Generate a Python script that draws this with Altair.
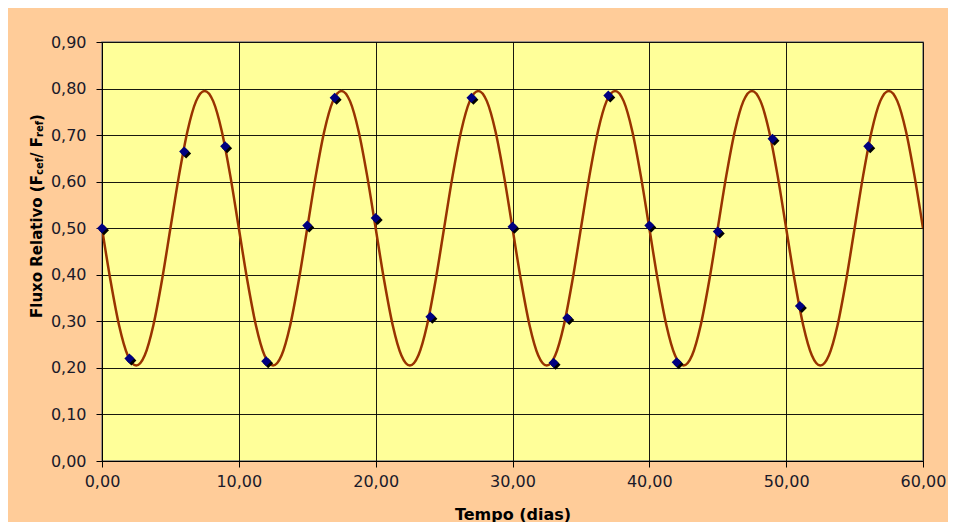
import altair as alt
import pandas as pd

# Observed data points (days, relative flux)
obs_t = [0, 2, 6, 9, 12, 15, 17, 20, 24, 27, 30, 33, 34, 37, 40, 42, 45, 49, 51, 56]
obs_y = [0.500, 0.220, 0.665, 0.676, 0.214, 0.506, 0.780, 0.522, 0.310, 0.780,
         0.503, 0.211, 0.307, 0.785, 0.506, 0.212, 0.493, 0.692, 0.333, 0.676]

# Fitted curve, every 0.625 days
curve_t = [
    0.000, 0.625, 1.250, 1.875, 2.500, 3.125, 3.750, 4.375, 5.000, 5.625, 6.250, 6.875, 7.500, 8.125, 8.750, 9.375,
    10.000, 10.625, 11.250, 11.875, 12.500, 13.125, 13.750, 14.375, 15.000, 15.625, 16.250, 16.875, 17.500, 18.125, 18.750, 19.375,
    20.000, 20.625, 21.250, 21.875, 22.500, 23.125, 23.750, 24.375, 25.000, 25.625, 26.250, 26.875, 27.500, 28.125, 28.750, 29.375,
    30.000, 30.625, 31.250, 31.875, 32.500, 33.125, 33.750, 34.375, 35.000, 35.625, 36.250, 36.875, 37.500, 38.125, 38.750, 39.375,
    40.000, 40.625, 41.250, 41.875, 42.500, 43.125, 43.750, 44.375, 45.000, 45.625, 46.250, 46.875, 47.500, 48.125, 48.750, 49.375,
    50.000, 50.625, 51.250, 51.875, 52.500, 53.125, 53.750, 54.375, 55.000, 55.625, 56.250, 56.875, 57.500, 58.125, 58.750, 59.375,
    60.000,
]
curve_y = [
    0.500, 0.387, 0.291, 0.227, 0.205, 0.227, 0.291, 0.387, 0.500, 0.613, 0.709, 0.773, 0.795, 0.773, 0.709, 0.613,
    0.500, 0.387, 0.291, 0.227, 0.205, 0.227, 0.291, 0.387, 0.500, 0.613, 0.709, 0.773, 0.795, 0.773, 0.709, 0.613,
    0.500, 0.387, 0.291, 0.227, 0.205, 0.227, 0.291, 0.387, 0.500, 0.613, 0.709, 0.773, 0.795, 0.773, 0.709, 0.613,
    0.500, 0.387, 0.291, 0.227, 0.205, 0.227, 0.291, 0.387, 0.500, 0.613, 0.709, 0.773, 0.795, 0.773, 0.709, 0.613,
    0.500, 0.387, 0.291, 0.227, 0.205, 0.227, 0.291, 0.387, 0.500, 0.613, 0.709, 0.773, 0.795, 0.773, 0.709, 0.613,
    0.500, 0.387, 0.291, 0.227, 0.205, 0.227, 0.291, 0.387, 0.500, 0.613, 0.709, 0.773, 0.795, 0.773, 0.709, 0.613,
    0.500,
]

x_ticks = [0, 10, 20, 30, 40, 50, 60]
y_ticks = [0.0, 0.1, 0.2, 0.3, 0.4, 0.5, 0.6, 0.7, 0.8, 0.9]

FONT = "DejaVu Sans"
LABEL_COLOR = "#1a1a2a"

obs = pd.DataFrame({"t": obs_t, "f": obs_y})
curve = pd.DataFrame({"t": curve_t, "f": curve_y})

x_scale = alt.Scale(domain=[0, 60], nice=False, zero=False)
y_scale = alt.Scale(domain=[0, 0.9], nice=False)

x_axis = alt.Axis(
    values=x_ticks,
    labelExpr="replace(format(datum.value, '.2f'), '.', ',')",
    title="Tempo (dias)",
    titleFont=FONT, titleFontSize=16, titleFontWeight="bold", titleColor="#000000",
    titlePadding=17,
    labelFont=FONT, labelFontSize=16, labelColor=LABEL_COLOR, labelPadding=6,
    tickSize=6, tickColor="#000000", domainColor="#000000",
    grid=True, gridColor="#000000", gridOpacity=0.9, gridWidth=1,
    labelFlush=False,
)
y_axis = alt.Axis(
    values=y_ticks,
    labelExpr="replace(format(datum.value, '.2f'), '.', ',')",
    title=None,
    labelFont=FONT, labelFontSize=16, labelColor=LABEL_COLOR, labelPadding=10,
    tickSize=6, tickColor="#000000", domainColor="#000000",
    grid=True, gridColor="#000000", gridOpacity=0.9, gridWidth=1,
    labelFlush=False,
)

line = alt.Chart(curve).mark_line(
    color="#993300", strokeWidth=2.5, interpolate="monotone", clip=True
).encode(
    x=alt.X("t:Q", scale=x_scale, axis=x_axis),
    y=alt.Y("f:Q", scale=y_scale, axis=y_axis),
)

shadow = alt.Chart(obs).mark_point(
    shape="diamond", filled=True, color="#000000", size=100, opacity=1, xOffset=2, yOffset=2
).encode(x=alt.X("t:Q", scale=x_scale), y=alt.Y("f:Q", scale=y_scale))

points = alt.Chart(obs).mark_point(
    shape="diamond", filled=True, color="#000080", size=100, opacity=1
).encode(x=alt.X("t:Q", scale=x_scale), y=alt.Y("f:Q", scale=y_scale))

# y-axis title with subscripts, composed of pieces reading bottom to top
title_parts = [
    ("Fluxo Relativo (F", 15, 0, 276),
    ("cef", 10, 3, 133),
    ("/ F", 15, 0, 116),
    ("ref", 10, 3, 95),
    (")", 15, 0, 79),
]
title_layers = []
for txt, fs, dx, ypos in title_parts:
    title_layers.append(
        alt.Chart(alt.Data(values=[{}])).mark_text(
            angle=270, align="left", baseline="middle", font=FONT,
            fontSize=fs, fontWeight="bold", color="#000000",
        ).encode(
            x=alt.value(-65 + dx),
            y=alt.value(ypos),
            text=alt.value(txt),
        )
    )

chart = alt.layer(line, shadow, points, *title_layers).properties(
    width=821,
    height=419,
    background="#FFCC99",
    autosize=alt.AutoSizeParams(type="none"),
    padding={"left": 94, "top": 34, "right": 25, "bottom": 61},
).configure_view(
    fill="#FFFF99", stroke="#808080", strokeWidth=1.5
)

chart.save("out.html", embed_options={"renderer": "svg", "actions": False})
